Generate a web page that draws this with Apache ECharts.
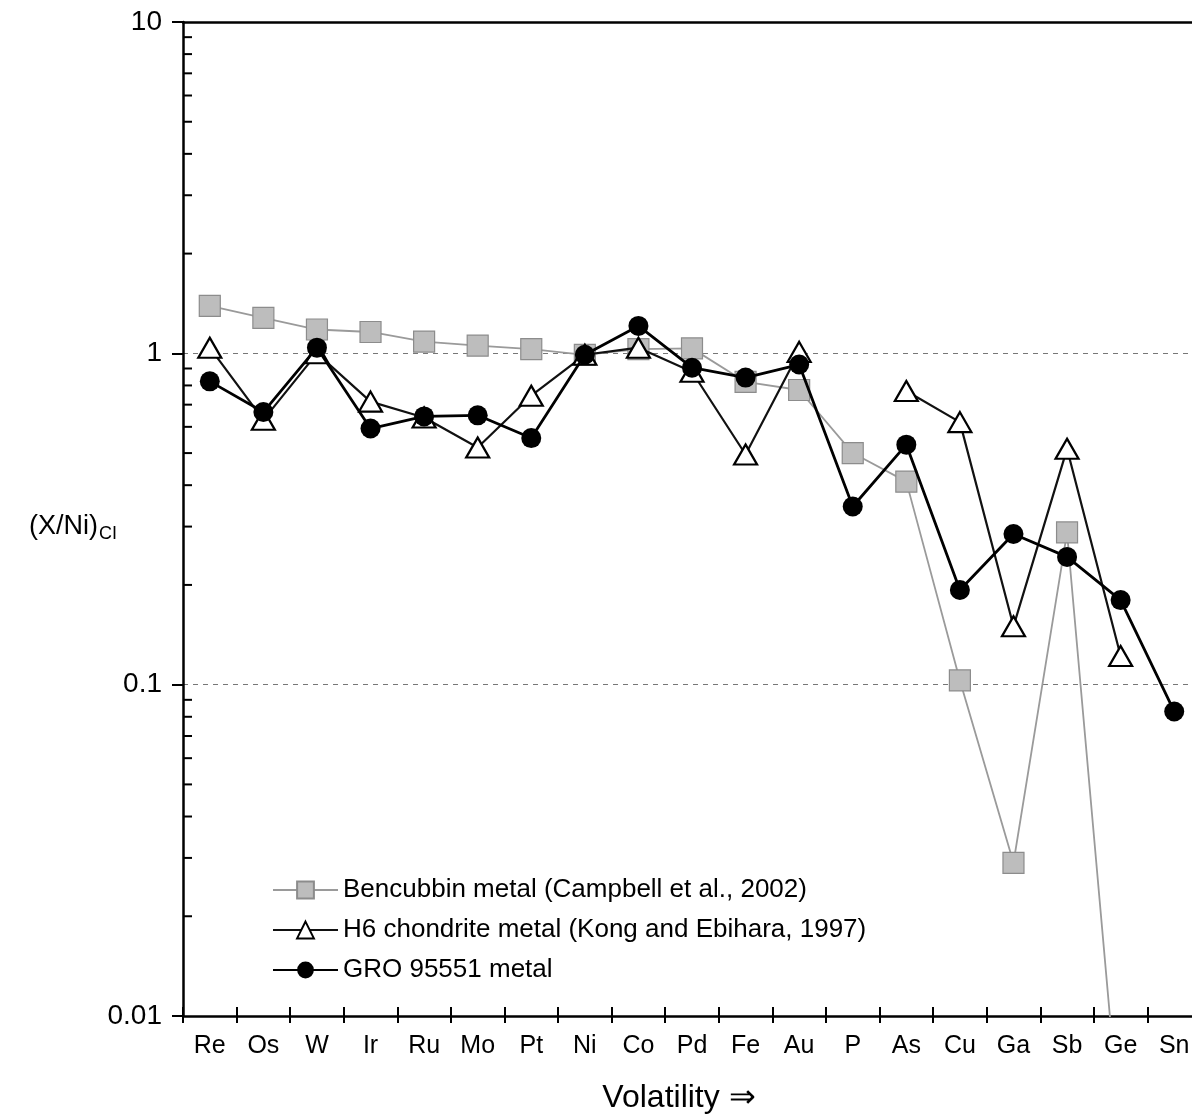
<!DOCTYPE html>
<html>
<head>
<meta charset="utf-8">
<script src="https://cdn.jsdelivr.net/npm/echarts@6/dist/echarts.min.js"></script>
<style>
html,body{margin:0;padding:0;background:#fff;overflow:hidden;}
#chart{width:1212px;height:1117px;}
</style>
</head>
<body>
<div id="chart"></div>
<script>
const categories = ['Re','Os','W','Ir','Ru','Mo','Pt','Ni','Co','Pd','Fe','Au','P','As','Cu','Ga','Sb','Ge','Sn'];
const bencubbin = [1.39,1.28,1.18,1.16,1.085,1.055,1.03,0.99,1.03,1.035,0.82,0.775,0.50,0.41,0.103,0.029,0.288,0.0043,null];
const h6 = [1.04,0.63,1.00,0.715,0.64,0.52,0.745,0.99,1.04,0.88,0.495,1.01,null,0.77,0.62,0.15,0.515,0.122,null];
const gro = [0.823,0.665,1.04,0.593,0.645,0.65,0.555,0.99,1.21,0.905,0.845,0.925,0.345,0.53,0.193,0.285,0.243,0.18,0.083];
const minorTickValues = [0.02,0.03,0.04,0.05,0.06,0.07,0.08,0.09,0.2,0.3,0.4,0.5,0.6,0.7,0.8,0.9,2,3,4,5,6,7,8,9];
const seriesNames = ['Bencubbin metal (Campbell et al., 2002)','H6 chondrite metal (Kong and Ebihara, 1997)','GRO 95551 metal'];

const FONT = '"Liberation Sans", Arial, Helvetica, sans-serif';
const chart = echarts.init(document.getElementById('chart'), null, {renderer:'canvas'});

const option = {
  animation: false,
  backgroundColor: '#fff',
  textStyle: {fontFamily: FONT, color: '#000'},
  grid: {left: 183, top: 22, width: 1018, height: 994, containLabel: false, outerBoundsMode: 'none'},
  legend: {
    data: seriesNames,
    orient: 'vertical',
    left: 267,
    top: 872,
    padding: 5,
    itemWidth: 65,
    itemHeight: 21,
    itemGap: 14,
    textStyle: {fontFamily: FONT, fontSize: 26, color: '#000', lineHeight: 26}
  },
  xAxis: [
    {
      type: 'category', data: categories, position: 'bottom', boundaryGap: true,
      axisLine: {show: true, lineStyle: {color: '#000', width: 2.5}},
      axisTick: {show: true, inside: false, length: 7, interval: 0, lineStyle: {color: '#000', width: 2}},
      axisLabel: {interval: 0, fontSize: 25, color: '#000', margin: 18, fontFamily: FONT},
      splitLine: {show: false},
      name: 'Volatility \u21D2', nameLocation: 'middle', nameGap: 66, nameMoveOverlap: false,
      nameTextStyle: {fontSize: 32, color: '#000', fontFamily: FONT, padding: [0, 26, 0, 0]}
    },
    {
      type: 'category', data: categories, position: 'bottom', boundaryGap: true,
      axisLine: {show: false},
      axisTick: {show: true, inside: true, length: 9, interval: 0, lineStyle: {color: '#000', width: 2}},
      axisLabel: {show: false}, splitLine: {show: false}
    },
    {
      type: 'category', data: categories, position: 'top', boundaryGap: true,
      axisLine: {show: true, lineStyle: {color: '#000', width: 2.5}},
      axisTick: {show: false}, axisLabel: {show: false}, splitLine: {show: false}
    }
  ],
  yAxis: {
    type: 'log', logBase: 10, min: 0.01, max: 10,
    axisLine: {show: true, lineStyle: {color: '#000', width: 2.5}},
    axisTick: {show: true, inside: false, length: 11, lineStyle: {color: '#000', width: 2}},
    axisLabel: {fontSize: 28, color: '#000', margin: 21, fontFamily: FONT,
      formatter: function (v) { return String(v); }},
    splitLine: {show: true, lineStyle: {color: '#777', width: 1, type: [5, 5]}},
    name: '{a|(X/Ni)}{b|CI}', nameLocation: 'middle', nameRotate: 0, nameGap: 66, nameMoveOverlap: false,
    nameTextStyle: {
      fontFamily: FONT, color: '#000', padding: [16, 0, 0, 0],
      rich: {
        a: {fontSize: 27, fontFamily: FONT, color: '#000'},
        b: {fontSize: 18, fontFamily: FONT, color: '#000', padding: [14, 0, 0, 1]}
      }
    }
  },
  series: [
    {
      name: seriesNames[0], type: 'line', data: bencubbin, z: 2,
      symbol: 'rect', symbolSize: 21, showSymbol: true, connectNulls: false,
      lineStyle: {color: '#9a9a9a', width: 1.8},
      itemStyle: {color: '#bdbdbd', borderColor: '#8c8c8c', borderWidth: 1.2}
    },
    {
      name: seriesNames[1], type: 'line', data: h6, z: 3,
      symbol: 'triangle', symbolSize: [23, 20], showSymbol: true, connectNulls: false,
      lineStyle: {color: '#111', width: 2.2},
      itemStyle: {color: '#fff', borderColor: '#000', borderWidth: 2.2}
    },
    {
      name: seriesNames[2], type: 'line', data: gro, z: 4,
      symbol: 'circle', symbolSize: 20, showSymbol: true, connectNulls: false,
      lineStyle: {color: '#000', width: 2.8},
      itemStyle: {color: '#000', borderColor: '#000', borderWidth: 0}
    },
    {
      name: 'minorTicks', type: 'custom', silent: true, z: 5, clip: false,
      data: minorTickValues.map(function (v) { return [0, v]; }),
      encode: {x: 0, y: 1},
      renderItem: function (params, api) {
        const p = api.coord([0, api.value(1)]);
        const x0 = params.coordSys.x;
        return {type: 'line', shape: {x1: x0, y1: p[1], x2: x0 + 9, y2: p[1]},
          style: {stroke: '#000', lineWidth: 2}};
      }
    }
  ]
};
chart.setOption(option);
</script>
</body>
</html>
